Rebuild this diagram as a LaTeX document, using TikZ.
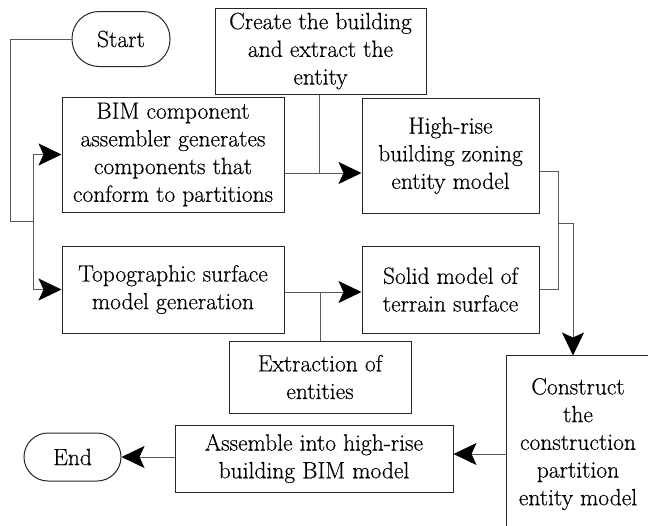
\documentclass[tikz,border=0pt]{standalone}
\usepackage{fontspec}
\setmainfont{Latin Modern Roman}[FakeBold=0.4]
\usetikzlibrary{arrows.meta}
\begin{document}
\begin{tikzpicture}[x=1pt,y=-1pt,
  box/.style={draw=black!85,line width=1pt,inner sep=0pt,align=center,
    font=\rmfamily\fontsize{23.5}{27.7}\selectfont},
  conn/.style={draw=black!65,line width=1pt},
  arr/.style={conn,-{Stealth[black,length=23pt,width=22pt,inset=5pt]}}]
\useasboundingbox (0,0) rectangle (648,525);
\node[box,rounded corners=27pt,minimum width=98pt,minimum height=55pt] (start) at (121,39) {Start};
\node[box,minimum width=211pt,minimum height=86pt] (create) at (320.5,51) {Create the building\\and extract the\\entity};
\node[box,minimum width=222pt,minimum height=115pt] (bim) at (173,154.5) {BIM component\\assembler generates\\components that\\conform to partitions};
\node[box,minimum width=177pt,minimum height=115pt] (high) at (450.5,155.5) {High-rise\\building zoning\\entity model};
\node[box,minimum width=222pt,minimum height=87pt] (topo) at (173,289.5) {Topographic surface\\model generation};
\node[box,minimum width=177pt,minimum height=87pt] (solid) at (450.5,289.5) {Solid model of\\terrain surface};
\node[box,minimum width=182pt,minimum height=72pt] (extr) at (320,377) {Extraction of\\entities};
\node[box,draw=none,minimum width=142pt,minimum height=176pt] (cons) at (578,444) {Construct\\the\\construction\\partition\\entity model};
\draw[black!85,line width=1pt] (cons.north east) -- (cons.north west) -- (cons.south west);
\node[box,minimum width=278pt,minimum height=67pt] (asm) at (314,458.5) {Assemble into high-rise\\building BIM model};
\node[box,rounded corners=24pt,minimum width=97pt,minimum height=48pt] (end) at (72.5,457) {End};
% connectors
\coordinate (s1) at (10,221);
\coordinate (s2) at (33,221);
\draw[conn] (start.west) -| (s1) -- (s2);
\draw[arr] (s2) |- (bim.west);
\draw[arr] (s2) |- (topo.west);
\coordinate (j1) at (319,173);
\draw[arr] (bim.east |- j1) -- (high.west |- j1);
\draw[conn] (create.south -| j1) -- (j1);
\coordinate (h1) at (558,171);
\coordinate (h2) at (558,223);
\coordinate (h3) at (573,223);
\draw[conn] (high.east |- h1) -- (h1) |- (solid.east);
\draw[arr] (h2) -- (h3) -- (cons.north -| h3);
\coordinate (j2) at (320,292);
\draw[arr] (topo.east |- j2) -- (solid.west |- j2);
\draw[conn] (j2) -- (extr.north -| j2);
\coordinate (j3) at (500,454);
\draw[arr] (cons.west |- j3) -- (asm.east |- j3);
\draw[arr] (asm.west |- end.east) -- (end.east);
\end{tikzpicture}
\end{document}
